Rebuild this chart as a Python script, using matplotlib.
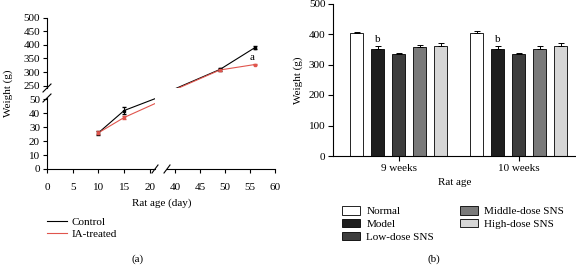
import numpy as np
import matplotlib
matplotlib.use("Agg")
import matplotlib.pyplot as plt
from matplotlib.lines import Line2D
from matplotlib.patches import Patch

plt.rcParams['font.family'] = ['Liberation Serif', 'DejaVu Serif']
plt.rcParams['font.size'] = 8

# panel (a): body weight over time
days = [10, 15, 49, 56]
ctrl_mean = [26, 42, 310, 390]
ctrl_err = [1.5, 2.5, 5, 6]
ia_mean = [26, 37, 308, 328]
ia_err = [1, 1, 3, 3]
# where the lines leave the lower-left segment
lower_end_day = 21
ctrl_lower_end = 50.5
ia_lower_end = 47

# panel (b): weight at 9 and 10 weeks
groups = ['9 weeks', '10 weeks']
treatments = ['Normal', 'Model', 'Low-dose SNS', 'Middle-dose SNS', 'High-dose SNS']
w_9 = [402, 350, 333, 358, 360]
w_10 = [404, 350, 333, 352, 360]
e_9 = [6, 10, 5, 7, 9]
e_10 = [7, 11, 5, 9, 10]
bar_colors = ['#ffffff', '#1e1e1e', '#3d3d3d', '#7a7a7a', '#d6d6d6']

W, H = 576, 266
fig = plt.figure(figsize=(W / 100, H / 100), dpi=100)
fs = 8


def px(x0, y0, x1, y1):
    return [x0 / W, 1 - y1 / H, (x1 - x0) / W, (y1 - y0) / H]


def slash(xc, yc, dx=4, dy=4):
    fig.add_artist(Line2D([(xc - dx) / W, (xc + dx) / W],
                          [1 - (yc + dy) / H, 1 - (yc - dy) / H],
                          color='black', lw=0.8, transform=fig.transFigure))


red = '#e0554d'
ax_ll = fig.add_axes(px(47, 98, 155, 169))
ax_ul = fig.add_axes(px(47, 17.5, 155, 88))
ax_lr = fig.add_axes(px(167, 98, 275, 169))
ax_ur = fig.add_axes(px(167, 17.5, 275, 88))

for ax in (ax_ll, ax_ul, ax_lr, ax_ur):
    ax.patch.set_alpha(0)
    for s in ax.spines.values():
        s.set_visible(False)
        s.set_linewidth(0.8)
    ax.tick_params(length=3, width=0.8, pad=2, labelsize=fs)

ax_ll.set_xlim(0, 21)
ax_ll.set_ylim(0, 51)
ax_ul.set_xlim(0, 21)
ax_ul.set_ylim(242, 500)
ax_lr.set_xlim(38.4, 60)
ax_lr.set_ylim(0, 51)
ax_ur.set_xlim(38.4, 60)
ax_ur.set_ylim(242, 500)

ax_ll.spines['left'].set_visible(True)
ax_ll.spines['bottom'].set_visible(True)
ax_ll.set_xticks([0, 5, 10, 15, 20])
ax_ll.set_yticks([0, 10, 20, 30, 40, 50])
ax_ll.tick_params(axis='x', pad=7)

ax_ul.spines['left'].set_visible(True)
ax_ul.set_xticks([])
ax_ul.set_yticks([250, 300, 350, 400, 450, 500])

ax_lr.spines['bottom'].set_visible(True)
ax_lr.set_yticks([])
ax_lr.set_xticks([40, 45, 50, 55, 60])
ax_lr.tick_params(axis='x', pad=7)

ax_ur.set_xticks([])
ax_ur.set_yticks([])

# lower-left part of the curves
ax_ll.plot(days[:2] + [lower_end_day], ctrl_mean[:2] + [ctrl_lower_end], color='black', lw=0.8)
ax_ll.plot(days[:2] + [lower_end_day], ia_mean[:2] + [ia_lower_end], color=red, lw=0.8)
ax_ll.errorbar(days[:2], ctrl_mean[:2], yerr=ctrl_err[:2], fmt='s', ms=2, color='black',
               capsize=1.5, elinewidth=0.7)
ax_ll.errorbar(days[:2], ia_mean[:2], yerr=ia_err[:2], fmt='s', ms=1.6, color=red,
               capsize=1.2, elinewidth=0.6)

# upper-right part of the curves
ax_ur.plot(days, ctrl_mean, color='black', lw=0.8)
ax_ur.plot(days, ia_mean, color=red, lw=0.8)
ax_ur.errorbar(days[2:], ctrl_mean[2:], yerr=ctrl_err[2:], fmt='s', ms=2, color='black',
               capsize=1.5, elinewidth=0.7)
ax_ur.errorbar(days[2:], ia_mean[2:], yerr=ia_err[2:], fmt='s', ms=1.6, color=red,
               capsize=1.2, elinewidth=0.6)
ax_ur.text(days[3] - 0.5, ia_mean[3] + 9, 'a', ha='center', va='bottom', fontsize=fs)

# axis breaks
slash(47, 98)
slash(47, 88)
slash(155, 169, 3, 4)
slash(167, 169, 3, 4)

fig.text(8 / W, 1 - 93 / H, 'Weight (g)', rotation=90, ha='center', va='center', fontsize=fs)
fig.text(162 / W, 1 - 203 / H, 'Rat age (day)', ha='center', va='center', fontsize=fs)
fig.text(138 / W, 1 - 259 / H, '(a)', ha='center', va='center', fontsize=fs)

fig.legend(handles=[Line2D([], [], color='black', lw=0.8), Line2D([], [], color=red, lw=0.8)],
           labels=['Control', 'IA-treated'], loc='upper left',
           bbox_to_anchor=(47 / W, 1 - 217 / H), frameon=False, fontsize=fs,
           handlelength=1.8, handletextpad=0.45, labelspacing=0.25, borderpad=0, borderaxespad=0)

# panel (b)
axb = fig.add_axes(px(333, 3.5, 576, 156))
x = np.arange(len(groups))
step = 0.175
width = 0.108
for i, t in enumerate(treatments):
    vals = [w_9[i], w_10[i]]
    errs = [e_9[i], e_10[i]]
    pos = x + (i - 2) * step
    axb.bar(pos, vals, width=width, color=bar_colors[i], edgecolor='black', lw=0.6, label=t)
    axb.errorbar(pos, vals, yerr=[[0, 0], errs], fmt='none', ecolor='black',
                 elinewidth=0.7, capsize=2.5, capthick=0.7)
for j in range(len(groups)):
    mv = [w_9, w_10][j][1]
    me = [e_9, e_10][j][1]
    axb.text(x[j] - step, mv + me + 6, 'b', ha='center', va='bottom', fontsize=fs)

axb.set_xlim(-0.546, 1.479)
axb.set_ylim(0, 500)
axb.set_yticks([0, 100, 200, 300, 400, 500])
axb.set_xticks(x)
axb.set_xticklabels(groups)
axb.spines['top'].set_visible(False)
axb.spines['right'].set_visible(False)
for s in ('left', 'bottom'):
    axb.spines[s].set_linewidth(0.8)
axb.tick_params(length=3.5, width=0.8, pad=2, labelsize=fs)
axb.set_ylabel('Weight (g)', fontsize=fs, labelpad=4)
axb.set_xlabel('Rat age', fontsize=fs, labelpad=4)

fig.legend(handles=[Patch(facecolor=c, edgecolor='black', lw=0.6) for c in bar_colors],
           labels=treatments, loc='upper left', ncol=2,
           bbox_to_anchor=(342 / W, 1 - 206 / H), frameon=False, fontsize=fs,
           handlelength=1.6, handleheight=0.8, handletextpad=0.6, labelspacing=0.25,
           columnspacing=2.3, borderpad=0, borderaxespad=0)
fig.text(434 / W, 1 - 259 / H, '(b)', ha='center', va='center', fontsize=fs)

fig.savefig('out.png', dpi=100)
